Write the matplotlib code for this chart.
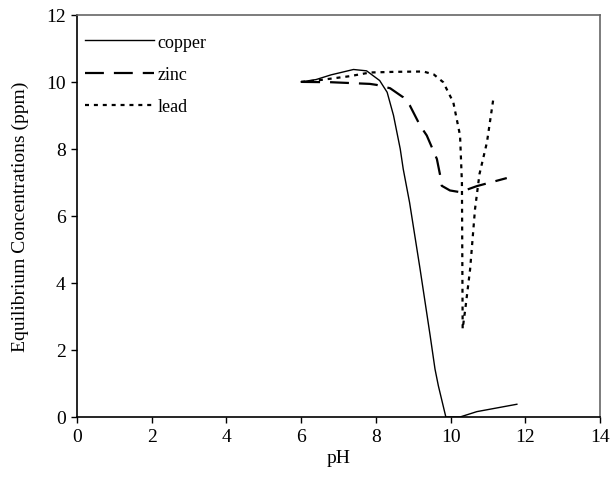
import numpy as np
import matplotlib
matplotlib.use('Agg')
import matplotlib.pyplot as plt

plt.rcParams['font.family'] = ['Liberation Serif', 'DejaVu Serif']

# copper (solid)
ph_cu = [6.0, 6.4, 6.8, 7.4, 7.75, 8.1, 8.3, 8.47, 8.65, 8.73, 8.9, 9.18, 9.45, 9.58, 9.67, 9.87, 10.25, 10.7, 11.77]
cu = [10.0, 10.07, 10.21, 10.37, 10.33, 10.04, 9.69, 9.0, 8.0, 7.4, 6.4, 4.42, 2.43, 1.43, 0.93, 0.0, 0.0, 0.16, 0.38]

# zinc (dashed)
ph_zn = [6.0, 6.8, 7.84, 8.02, 8.38, 8.73, 8.91, 9.18, 9.36, 9.63, 9.72, 9.76, 9.98, 10.25, 10.7, 11.5]
zn = [10.0, 9.99, 9.94, 9.91, 9.81, 9.54, 9.29, 8.7, 8.4, 7.7, 7.2, 6.9, 6.76, 6.71, 6.89, 7.13]

# lead (dotted)
ph_pb = [6.0, 6.4, 7.3, 7.84, 8.5, 9.27, 9.55, 9.8, 10.07, 10.25, 10.3, 10.32, 10.39, 10.52, 10.65, 10.77, 10.97, 11.14]
pb = [10.0, 10.04, 10.17, 10.28, 10.3, 10.31, 10.22, 9.99, 9.39, 8.4, 7.0, 2.63, 3.22, 4.42, 6.2, 7.25, 8.2, 9.49]

fig = plt.figure(figsize=(6.1, 4.81), dpi=100)
ax = fig.add_axes([0.126, 0.131, 0.858, 0.836])

ax.plot(ph_cu, cu, '-', color='black', linewidth=1.0, label='copper')
ax.plot(ph_zn, zn, color='black', linewidth=1.6, dashes=(8.5, 4.5), label='zinc')
ax.plot(ph_pb, pb, color='black', linewidth=1.6, dashes=(1.8, 2.2), label='lead')

ax.set_xlim(0, 14)
ax.set_ylim(0, 12)
ax.set_xticks(np.arange(0, 15, 2))
ax.set_yticks(np.arange(0, 13, 2))
ax.set_xlabel('pH', fontsize=14, labelpad=3)
ax.set_ylabel('Equilibrium Concentrations (ppm)', fontsize=14, labelpad=12)
ax.tick_params(direction='out', length=4, labelsize=14, width=1, pad=4)
for s in ['left', 'bottom']:
    ax.spines[s].set_linewidth(1.2)
for s in ['top', 'right']:
    ax.spines[s].set_color('#666666')
    ax.spines[s].set_linewidth(1.2)

ax.legend(loc='upper left', frameon=False, fontsize=13, handlelength=3.8,
          handletextpad=0.2, borderaxespad=0.2, labelspacing=0.85,
          bbox_to_anchor=(-0.005, 0.98))

plt.savefig('out.png', dpi=100)
